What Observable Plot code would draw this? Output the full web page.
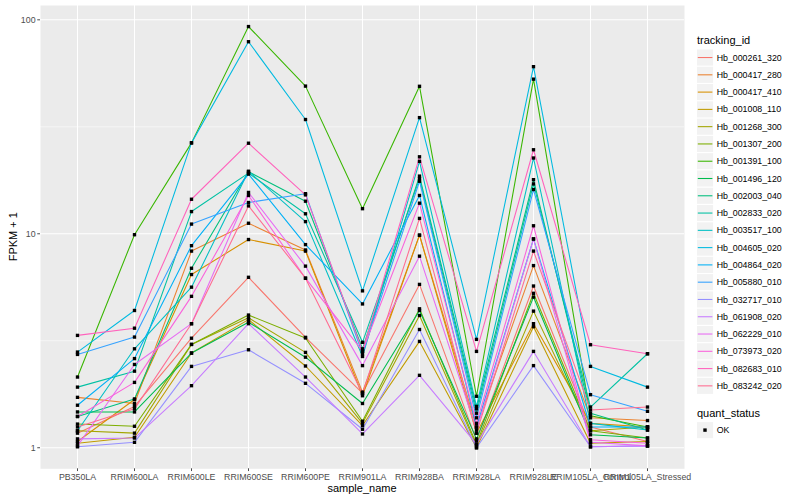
<!DOCTYPE html>
<html><head><meta charset="utf-8">
<script src="https://cdn.jsdelivr.net/npm/d3@7"></script>
<script src="https://cdn.jsdelivr.net/npm/@observablehq/plot@0.6"></script>
<style>
body{margin:0;background:#fff;font-family:"Liberation Sans",Arial,sans-serif;}
#wrap{position:relative;width:800px;height:500px;}
</style></head><body><div id="wrap"></div>
<script>
const samples = ["PB350LA","RRIM600LA","RRIM600LE","RRIM600SE","RRIM600PE","RRIM901LA","RRIM928BA","RRIM928LA","RRIM928LE","RRIM105LA_Control","RRIM105LA_Stressed"];
const trackingIds = ["Hb_000261_320","Hb_000417_280","Hb_000417_410","Hb_001008_110","Hb_001268_300","Hb_001307_200","Hb_001391_100","Hb_001496_120","Hb_002003_040","Hb_002833_020","Hb_003517_100","Hb_004605_020","Hb_004864_020","Hb_005880_010","Hb_032717_010","Hb_061908_020","Hb_062229_010","Hb_073973_020","Hb_082683_010","Hb_083242_020"];
const seriesColors = ["#F8766D","#EA8331","#D89000","#C09B00","#A3A500","#7CAE00","#39B600","#00BB4E","#00BF7D","#00C1A3","#00BFC4","#00BAE0","#00B0F6","#35A2FF","#9590FF","#C77CFF","#E76BF3","#FA62DB","#FF62BC","#FF6C91"];
// FPKM + 1, one row per tracking_id, one column per sample
const fpkm1 = [
 [1.17, 1.56, 3.25, 6.26, 3.28, 1.80, 5.8, 1.08, 5.7, 1.25, 1.07],
 [1.72, 1.61, 8.3, 11.2, 8.4, 1.82, 9.85, 1.25, 7.1, 1.38, 1.34],
 [1.07, 1.68, 6.45, 9.4, 8.3, 1.75, 9.85, 1.17, 3.8, 1.30, 1.25],
 [1.05, 1.12, 2.77, 3.97, 2.41, 1.27, 3.14, 1.00, 3.68, 1.05, 1.07],
 [1.20, 1.17, 3.04, 4.05, 2.79, 1.30, 4.15, 1.02, 4.35, 1.20, 1.25],
 [1.29, 1.26, 3.04, 4.17, 3.26, 1.33, 4.46, 1.04, 5.27, 1.20, 1.11],
 [2.14, 9.9, 26.6, 93, 49, 13.1, 48.9, 1.74, 52.8, 1.41, 1.25],
 [1.47, 1.47, 2.77, 3.86, 2.65, 1.61, 4.38, 1.10, 5.06, 1.15, 1.11],
 [1.40, 1.69, 6.9, 19.5, 14.2, 2.9, 18.6, 1.52, 17.9, 1.45, 1.21],
 [1.92, 2.28, 12.7, 19.2, 12.4, 3.11, 18.1, 1.45, 17.1, 1.55, 2.75],
 [1.20, 2.90, 5.63, 19.6, 11.4, 2.67, 21.8, 1.56, 22.6, 1.30, 1.21],
 [2.80, 4.38, 26.6, 79, 34.2, 5.41, 34.9, 3.21, 60.4, 2.40, 1.92],
 [1.58, 2.61, 8.8, 19.0, 8.9, 4.7, 15.1, 1.25, 9.46, 1.25, 1.25],
 [2.73, 3.29, 11.1, 14.0, 15.4, 2.75, 17.6, 1.38, 16.1, 1.77, 1.48],
 [1.01, 1.06, 2.40, 2.87, 2.0, 1.22, 3.57, 1.00, 2.42, 1.01, 1.02],
 [1.10, 1.11, 1.95, 3.80, 2.14, 1.16, 2.18, 1.04, 2.82, 1.01, 1.02],
 [1.02, 2.45, 3.8, 15.6, 7.06, 2.42, 7.86, 1.21, 9.46, 1.06, 1.02],
 [1.40, 2.02, 5.1, 15.1, 6.2, 2.83, 13.9, 1.30, 10.9, 1.09, 1.05],
 [3.35, 3.62, 14.5, 26.5, 15.2, 2.83, 22.9, 2.82, 24.7, 3.03, 2.75],
 [1.25, 1.52, 3.8, 13.5, 6.2, 1.79, 11.8, 1.17, 8.3, 1.50, 1.55]
];
const yTicks = [1, 10, 100];
const quantStatus = ["OK"];

const rows = [];
trackingIds.forEach((id, i) => samples.forEach((s, j) => rows.push({id, sample: s, value: fpkm1[i][j], status: quantStatus[0]})));

const logs = rows.map(d => Math.log10(d.value));
const lmin = d3.min(logs), lmax = d3.max(logs), pad = (lmax - lmin) * 0.05;
const yDomain = [10 ** (lmin - pad), 10 ** (lmax + pad)];
const minor = yTicks.slice(0, -1).map(t => t * Math.sqrt(10));

const plot = Plot.plot({
  width: 800, height: 500,
  marginLeft: 40, marginRight: 116, marginTop: 5, marginBottom: 31.7,
  style: {fontFamily: '"Liberation Sans", Arial, sans-serif', background: "white"},
  x: {type: "point", domain: samples, padding: 0.6},
  y: {type: "log", domain: yDomain},
  color: {domain: trackingIds, range: seriesColors},
  marks: [
    Plot.frame({fill: "#EBEBEB", stroke: null}),
    Plot.ruleY(minor, {stroke: "white", strokeWidth: 0.53}),
    Plot.ruleY(yTicks, {stroke: "white", strokeWidth: 1.07}),
    Plot.ruleX(samples, {stroke: "white", strokeWidth: 1.07}),
    Plot.axisY({ticks: yTicks, tickFormat: d => String(d), tickSize: 2.75, tickPadding: 2.2, fontSize: 8.8, color: "#4D4D4D", label: null}),
    Plot.axisX({tickSize: 2.75, tickPadding: 2.2, fontSize: 8.8, color: "#4D4D4D", label: null}),
    Plot.line(rows, {x: "sample", y: "value", z: "id", stroke: "id", strokeWidth: 1.07}),
    Plot.dot(rows, {x: "sample", y: "value", symbol: "square", r: 1.9, fill: "black", stroke: null})
  ]
});
document.getElementById("wrap").appendChild(plot);

const svg = d3.select(plot);
const ff = '"Liberation Sans", Arial, sans-serif';
svg.append("text").attr("x", 362).attr("y", 492).attr("text-anchor", "middle")
  .attr("font-size", 11).attr("font-family", ff).attr("fill", "black").text("sample_name");
svg.append("text").attr("transform", "translate(17,236.7) rotate(-90)").attr("text-anchor", "middle")
  .attr("font-size", 11).attr("font-family", ff).attr("fill", "black").text("FPKM + 1");

// legend
const lg = svg.append("g").attr("font-family", ff).attr("text-anchor", "start");
lg.append("text").attr("x", 697).attr("y", 44).attr("font-size", 11).attr("fill", "black").text("tracking_id");
trackingIds.forEach((id, i) => {
  const top = 48.9 + i * 17.28;
  lg.append("rect").attr("x", 697).attr("y", top + 0.6).attr("width", 16.1).attr("height", 16.1).attr("fill", "#F2F2F2");
  lg.append("line").attr("x1", 697.8).attr("x2", 712.4).attr("y1", top + 8.64).attr("y2", top + 8.64)
    .attr("stroke", seriesColors[i]).attr("stroke-width", 1.07);
  lg.append("text").attr("x", 716.7).attr("y", top + 8.64 + 3.1).attr("font-size", 8.8).attr("fill", "black").text(id);
});
lg.append("text").attr("x", 697).attr("y", 416.5).attr("font-size", 11).attr("fill", "black").text("quant_status");
lg.append("rect").attr("x", 697).attr("y", 422.1).attr("width", 16.1).attr("height", 16.1).attr("fill", "#F2F2F2");
lg.append("rect").attr("x", 703.3).attr("y", 428.4).attr("width", 3.4).attr("height", 3.4).attr("fill", "black");
lg.append("text").attr("x", 716.7).attr("y", 433.3).attr("font-size", 8.8).attr("fill", "black").text(quantStatus[0]);
</script></body></html>
